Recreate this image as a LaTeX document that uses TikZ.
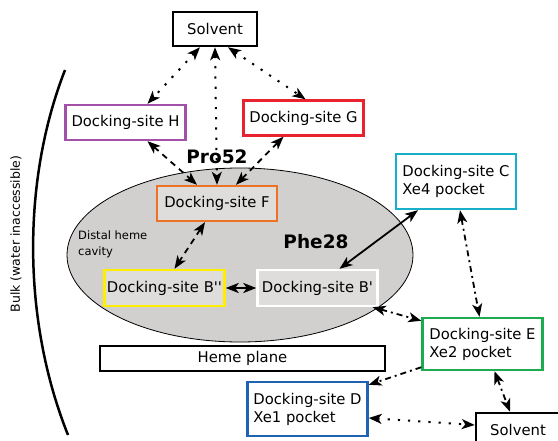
\documentclass[tikz,border=0pt]{standalone}
\usepackage{fontspec}
\setmainfont{DejaVu Sans}
\usetikzlibrary{arrows.meta}

\definecolor{hcol}{HTML}{A350A8}
\definecolor{gcol}{HTML}{E8222E}
\definecolor{fcol}{HTML}{EE7226}
\definecolor{ccol}{HTML}{17B0C8}
\definecolor{ecol}{HTML}{1DAA50}
\definecolor{dcol}{HTML}{1E63B4}
\definecolor{bcol}{HTML}{FFEE00}
\definecolor{cavity}{HTML}{D2CFCF}
\definecolor{sitegray}{HTML}{DEDDDC}

\begin{document}
\begin{tikzpicture}[x=1pt,y=-1pt,
    >={Stealth[length=13pt,width=10pt,inset=3.5pt]},
    site/.style={draw,line width=2.4pt,fill=white,minimum width=120pt,
        minimum height=35pt,align=left,inner xsep=2pt,inner ysep=4pt,
        font=\fontsize{14.8}{18}\selectfont},
    cavsite/.style={site,fill=sitegray},
    dots/.style={line width=2pt,dash pattern=on 2.2pt off 8pt},
    dashes/.style={line width=1.8pt,dash pattern=on 6pt off 5pt},
    dashdot/.style={line width=1.8pt,dash pattern=on 6pt off 4pt on 2pt off 4pt},
]
    \useasboundingbox (0,0) rectangle (558,441);

    % bulk boundary
    \draw[line width=2.5pt] (65,70) .. controls (22,180) and (22,320) .. (68,435);
    \node[rotate=90,font=\fontsize{12.5}{15}\selectfont] (bulk) at (16,234) {Bulk (water inaccessible)};

    % distal cavity
    \draw[fill=cavity,line width=0.8pt] (240,255) ellipse [x radius=173pt,y radius=87pt];
    \node[anchor=north west,align=left,inner sep=0pt,font=\fontsize{11.5}{16}\selectfont] (distal) at (78,231) {Distal heme\\cavity};
    \node[font=\bfseries\fontsize{18.5}{20}\selectfont] (pro) at (217,157) {Pro52};
    \node[font=\bfseries\fontsize{18.5}{20}\selectfont] (phe) at (316,242) {Phe28};

    % sites
    \node[site,minimum width=84pt,minimum height=34pt,line width=2.5pt] (solvA) at (215,29) {Solvent};
    \node[site,draw=hcol] (siteH) at (125.5,122.5) {Docking-site H};
    \node[site,draw=gcol] (siteG) at (303.5,118) {Docking-site G};
    \node[cavsite,draw=fcol] (siteF) at (217,203.5) {Docking-site F};
    \node[cavsite,draw=bcol,minimum height=36pt] (siteBB) at (164.5,288) {Docking-site B\textquotesingle\textquotesingle};
    \node[cavsite,draw=white,minimum height=36pt] (siteB) at (317.5,288) {Docking-site B\textquotesingle};
    \node[site,draw=black,line width=2pt,minimum width=285pt,minimum height=25pt] (heme) at (242.5,358.5) {Heme plane};
    \node[site,draw=ccol,minimum height=55pt] (siteC) at (456,181.5) {Docking-site C\\Xe4 pocket};
    \node[site,draw=ecol,minimum height=52pt] (siteE) at (482.5,344) {Docking-site E\\Xe2 pocket};
    \node[site,draw=dcol,minimum height=54pt] (siteD) at (307.5,409) {Docking-site D\\Xe1 pocket};
    \node[site,minimum width=84pt,minimum height=34pt,line width=2.5pt] (solvB) at (518,430) {Solvent};

    % pathways
    \draw[dots,<->] ([xshift=-15pt]solvA.south) -- ([xshift=22pt]siteH.north);
    \draw[dots,<->] (solvA.south) -- (siteF.north);
    \draw[dots,<->] ([xshift=13pt]solvA.south) -- ([xshift=2pt]siteG.north);
    \draw[dashes,<->] ([xshift=22pt]siteH.south) -- ([xshift=-20pt]siteF.north);
    \draw[dashes,<->] ([xshift=-20pt]siteG.south) -- ([xshift=19pt]siteF.north);
    \draw[dashes,<->] ([xshift=-12pt]siteF.south) -- ([xshift=10pt]siteBB.north);
    \draw[line width=2.2pt,<->] (siteBB.east) -- (siteB.west);
    \draw[line width=1.8pt,<->] ([xshift=-38pt]siteC.south) -- ([xshift=22pt]siteB.north);
    \draw[dashdot,<->] ([xshift=4pt]siteC.south) -- ([xshift=-3pt]siteE.north);
    \draw[dashdot,<->] ([xshift=-6pt]siteB.south east) -- ([yshift=-4pt]siteE.north west);
    \draw[dashdot,->] ([yshift=4pt]siteE.south west) -- ([yshift=-4pt]siteD.north east);
    \draw[dashdot,<->] ([xshift=12pt]siteE.south) -- ([xshift=-8pt]solvB.north);
    \draw[dots,<->] ([yshift=-9pt]siteD.east) -- ([yshift=5pt]solvB.west);
\end{tikzpicture}
\end{document}
